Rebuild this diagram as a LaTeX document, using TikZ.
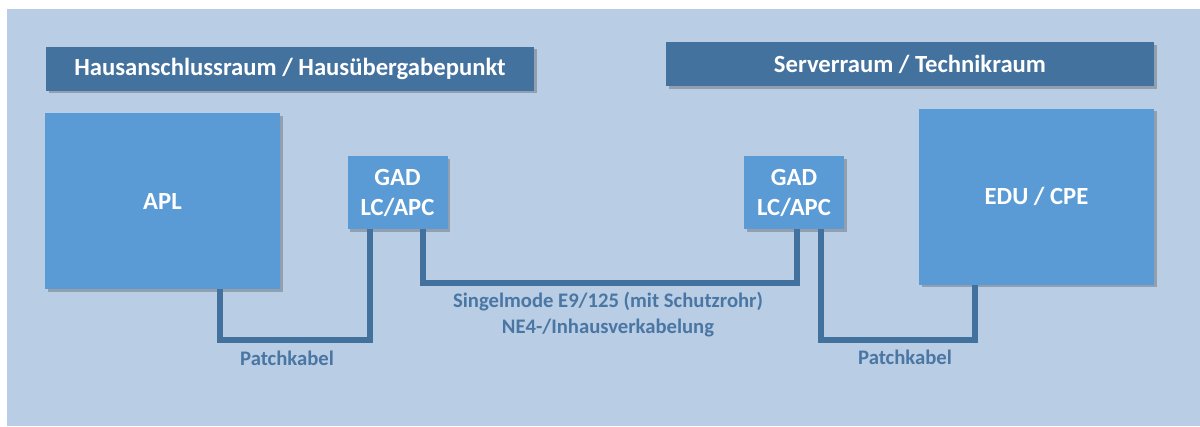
\documentclass[tikz,border=0pt]{standalone}
\usepackage{fontspec}
\setmainfont{Carlito}
\usetikzlibrary{shadows}
\definecolor{panel}{HTML}{B9CDE5}
\definecolor{boxblue}{HTML}{5B9BD5}
\definecolor{titleblue}{HTML}{44729F}
\definecolor{cableblue}{HTML}{41719C}
\definecolor{labelblue}{HTML}{4A76A3}
\tikzset{
  shade box/.style={drop shadow={shadow xshift=2pt, shadow yshift=-2pt, opacity=0.35, fill=black!70}},
  titlebox/.style={shade box, fill=titleblue, draw=none, inner sep=0pt, outer sep=0pt,
    minimum width=366pt, minimum height=33pt, text=white, font=\bfseries\fontsize{18.5}{22}\selectfont},
  bigbox/.style={shade box, fill=boxblue, draw=none, inner sep=0pt, outer sep=0pt,
    minimum width=176pt, minimum height=132pt, text=white, font=\bfseries\fontsize{18.5}{22}\selectfont},
  gadbox/.style={shade box, fill=boxblue, draw=none, inner sep=0pt, outer sep=0pt,
    minimum width=75pt, minimum height=55pt, align=center, text=white, font=\bfseries\fontsize{18.5}{22.5}\selectfont},
  cable/.style={draw=cableblue, line width=3.8pt, line join=miter},
  cablelabel/.style={text=labelblue, align=center, font=\bfseries\fontsize{15.5}{19.5}\selectfont},
}
\begin{document}
\begin{tikzpicture}[x=0.75pt,y=-0.75pt]
\useasboundingbox (0,0) rectangle (1200,426);
\fill[white] (0,0) rectangle (1200,426);
\fill[panel] (7,9) rectangle (1200,426);

\node[titlebox] (t1) at (290,68.5) {Hausanschlussraum / Hausübergabepunkt};
\node[titlebox] (t2) at (910,64) {Serverraum / Technikraum};

\node[bigbox] (apl) at (162.5,201) {APL};
\node[bigbox] (edu) at (1036.5,196.5) {EDU / CPE};
\node[gadbox] (gadl) at (397.5,192.5) {GAD\\LC/APC};
\node[gadbox] (gadr) at (794,192.5) {GAD\\LC/APC};

\coordinate (m1) at (295,340);
\coordinate (m2) at (610,283);
\coordinate (m3) at (898,340);

\draw[cable] (apl.south -| 220,0) |- (m1) -| (gadl.south -| 370,0);
\draw[cable] (gadl.south -| 423,0) |- (m2) -| (gadr.south -| 797,0);
\draw[cable] (gadr.south -| 821,0) |- (m3) -| (edu.south -| 975,0);

\node[cablelabel] (lp1) at (287,358) {Patchkabel};
\node[cablelabel] (lp2) at (905,357) {Patchkabel};
\node[cablelabel] (ls) at (608,315) {Singelmode E9/125 (mit Schutzrohr)\\NE4-/Inhausverkabelung};
\end{tikzpicture}
\end{document}
